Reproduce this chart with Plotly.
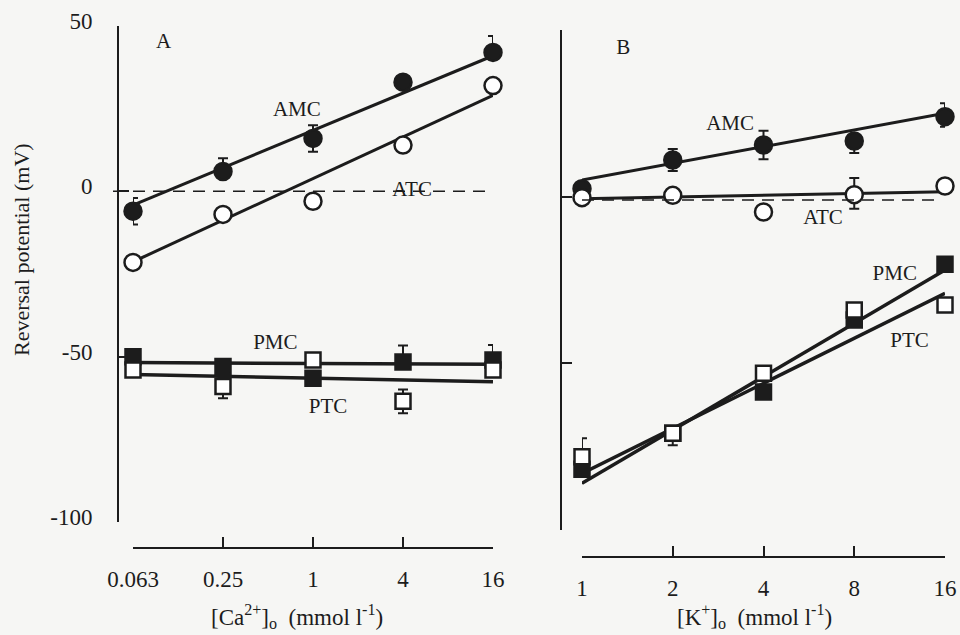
import math
import plotly.graph_objects as go

# ---------------- data ----------------
ca_conc = [0.0625, 0.25, 1, 4, 16]
ca_ticktext = ["0.063", "0.25", "1", "4", "16"]
k_conc = [1, 2, 4, 8, 16]
k_ticktext = ["1", "2", "4", "8", "16"]
y_tickvals = [-100, -50, 0, 50]
y_ticktext = ["-100", "-50", "0", "50"]

# Panel A  (Ca2+)
a_amc = [-6, 6, 16, 33, 42]
a_amc_err_up = [4, 4, 4, 0, 5]
a_amc_err_dn = [4, 0, 4, 0, 0]
a_atc = [-21.5, -7, -3, 14, 32]
a_pmc = [-50, -53, -56.5, -51.6, -51]
a_pmc_err_up = [0, 0, 0, 5, 4.5]
a_pmc_err_dn = [0, 0, 0, 0, 0]
a_ptc = [-54, -59, -51, -63.5, -54]
a_ptc_err_up = [0, 0, 0, 3.6, 0]
a_ptc_err_dn = [0, 3.6, 0, 3.6, 0]
a_amc_fit = [-4.2, 41]
a_atc_fit = [-21.3, 29]
a_pmc_fit = [-51.8, -52.3]
a_ptc_fit = [-55.4, -57.6]

# Panel B  (K+)
b_amc = [2.4, 11, 15.5, 16.7, 24]
b_amc_err_up = [0, 3.3, 4.3, 0, 4]
b_amc_err_dn = [0, 3.3, 4.3, 3.6, 3]
b_atc = [-0.3, 0.4, -4.6, 0.6, 3.2]
b_atc_err_up = [0, 0, 0, 5, 0]
b_atc_err_dn = [0, 0, 0, 4.2, 0]
b_pmc = [-81.8, -71, -58.6, -37, -20.3]
b_ptc = [-78, -71, -53, -34, -32.5]
b_ptc_err_up = [5.5, 0, 0, 0, 0]
b_ptc_err_dn = [0, 3.6, 0, 0, 0]
b_amc_fit = [5, 25]
b_atc_fit = [-0.6, 1.5]
b_pmc_fit = [-86, -22]
b_ptc_fit = [-83, -29]

INK = "#1c1c1c"
BG = "#f6f6f4"
FONT = "Liberation Serif"

fig = go.Figure()


def fit_line(xs, ys, xa, ya, width=3):
    fig.add_trace(go.Scatter(x=[xs[0], xs[-1]], y=ys, mode="lines",
                             line=dict(color=INK, width=width),
                             xaxis=xa, yaxis=ya, showlegend=False,
                             hoverinfo="skip"))


def points(xs, ys, xa, ya, symbol, filled, size, up=None, dn=None):
    err = None
    if up is not None:
        err = dict(type="data", symmetric=False, array=up, arrayminus=dn,
                   color=INK, thickness=2, width=5)
    fig.add_trace(go.Scatter(
        x=xs, y=ys, mode="markers", xaxis=xa, yaxis=ya, showlegend=False,
        cliponaxis=False, error_y=err,
        marker=dict(symbol=symbol, size=size,
                    color=INK if filled else "white",
                    line=dict(color=INK, width=2.5))))


def label(x, y, text, xa, ya, size=21):
    fig.add_trace(go.Scatter(x=[x], y=[y], mode="text", text=[text],
                             textfont=dict(family=FONT, size=size, color=INK),
                             xaxis=xa, yaxis=ya, showlegend=False,
                             cliponaxis=False, hoverinfo="skip"))


# ---- Panel A ----
fit_line(ca_conc, a_amc_fit, "x", "y")
fit_line(ca_conc, a_atc_fit, "x", "y")
fit_line(ca_conc, a_pmc_fit, "x", "y", 3.5)
fit_line(ca_conc, a_ptc_fit, "x", "y", 3.5)
points(ca_conc, a_amc, "x", "y", "circle", True, 17, a_amc_err_up, a_amc_err_dn)
points(ca_conc, a_atc, "x", "y", "circle", False, 17)
points(ca_conc, a_pmc, "x", "y", "square", True, 15, a_pmc_err_up, a_pmc_err_dn)
points(ca_conc, a_ptc, "x", "y", "square", False, 15, a_ptc_err_up, a_ptc_err_dn)
label(0.1, 45, "A", "x", "y")
label(0.78, 24.3, "AMC", "x", "y")
label(4.6, 0.3, "ATC", "x", "y")
label(0.56, -46, "PMC", "x", "y")
label(1.26, -65.5, "PTC", "x", "y")

# ---- Panel B ----
fit_line(k_conc, b_amc_fit, "x2", "y2")
fit_line(k_conc, b_atc_fit, "x2", "y2")
fit_line(k_conc, b_pmc_fit, "x2", "y2", 3.5)
fit_line(k_conc, b_ptc_fit, "x2", "y2", 3.5)
points(k_conc, b_amc, "x2", "y2", "circle", True, 17, b_amc_err_up, b_amc_err_dn)
points(k_conc, b_atc, "x2", "y2", "circle", False, 17, b_atc_err_up, b_atc_err_dn)
points(k_conc, b_pmc, "x2", "y2", "square", True, 15)
points(k_conc, b_ptc, "x2", "y2", "square", False, 15, b_ptc_err_up, b_ptc_err_dn)
label(1.37, 44.5, "B", "x2", "y2")
label(3.1, 21.5, "AMC", "x2", "y2")
label(6.3, -6.7, "ATC", "x2", "y2")
label(10.9, -23.3, "PMC", "x2", "y2")
label(12.2, -43.6, "PTC", "x2", "y2")

W, H = 960, 635
tickfont = dict(family=FONT, size=23, color=INK)

common_x = dict(type="log", showgrid=False, zeroline=False, showline=True,
                linecolor=INK, linewidth=2, ticks="inside", ticklen=10,
                tickwidth=2, tickcolor=INK, tickfont=tickfont,
                anchor="free", ticklabelstandoff=10, automargin=False)
common_y = dict(range=[-100, 50], showgrid=False, zeroline=False,
                showline=True, linecolor=INK, linewidth=2, ticks="inside",
                ticklen=10, tickwidth=2, tickcolor=INK, tickfont=tickfont,
                anchor="free", tickvals=y_tickvals, ticktext=y_ticktext,
                automargin=False)

fig.update_layout(
    width=W, height=H, autosize=False,
    margin=dict(l=0, r=0, t=0, b=0, pad=0),
    paper_bgcolor=BG, plot_bgcolor=BG,
    font=dict(family=FONT, color=INK),
    xaxis=dict(common_x, domain=[133 / W, 493 / W],
               range=[math.log10(ca_conc[0]), math.log10(ca_conc[-1])],
               tickvals=ca_conc, ticktext=ca_ticktext,
               position=1 - 548 / H),
    yaxis=dict(common_y, domain=[1 - 522 / H, 1 - 26 / H],
               position=118 / W, ticklabelstandoff=20, ticklabelshift=-5),
    xaxis2=dict(common_x, domain=[582 / W, 945 / W],
                range=[math.log10(k_conc[0]), math.log10(k_conc[-1])],
                tickvals=k_conc, ticktext=k_ticktext,
                position=1 - 557 / H),
    yaxis2=dict(common_y, domain=[1 - 530 / H, 1 - 30 / H],
                position=561 / W, showticklabels=False),
    shapes=[
        dict(type="line", xref="paper", yref="y", x0=113 / W, x1=487 / W,
             y0=0, y1=0, line=dict(color=INK, width=1.5, dash="12px,8px")),
        dict(type="line", xref="paper", yref="y2", x0=582 / W, x1=937 / W,
             y0=-1, y1=-1, line=dict(color=INK, width=1.5, dash="12px,8px")),
    ],
    annotations=[
        dict(text="Reversal potential (mV)", textangle=-90, xref="paper",
             yref="paper", x=22 / W, y=1 - 250 / H, xanchor="center",
             yanchor="middle", showarrow=False,
             font=dict(family=FONT, size=22, color=INK)),
        dict(text="[Ca<sup>2+</sup>]<sub>o</sub>  (mmol l<sup>-1</sup>)",
             xref="paper", yref="paper", x=297 / W, y=1 - 616 / H,
             xanchor="center", yanchor="middle",
             showarrow=False, font=dict(family=FONT, size=23, color=INK)),
        dict(text="[K<sup>+</sup>]<sub>o</sub>  (mmol l<sup>-1</sup>)",
             xref="paper", yref="paper", x=754 / W, y=1 - 616 / H,
             xanchor="center", yanchor="middle",
             showarrow=False, font=dict(family=FONT, size=23, color=INK)),
    ],
)

fig.write_html("out.html", config={"displayModeBar": False},
               post_script="document.body.style.margin='0';")
